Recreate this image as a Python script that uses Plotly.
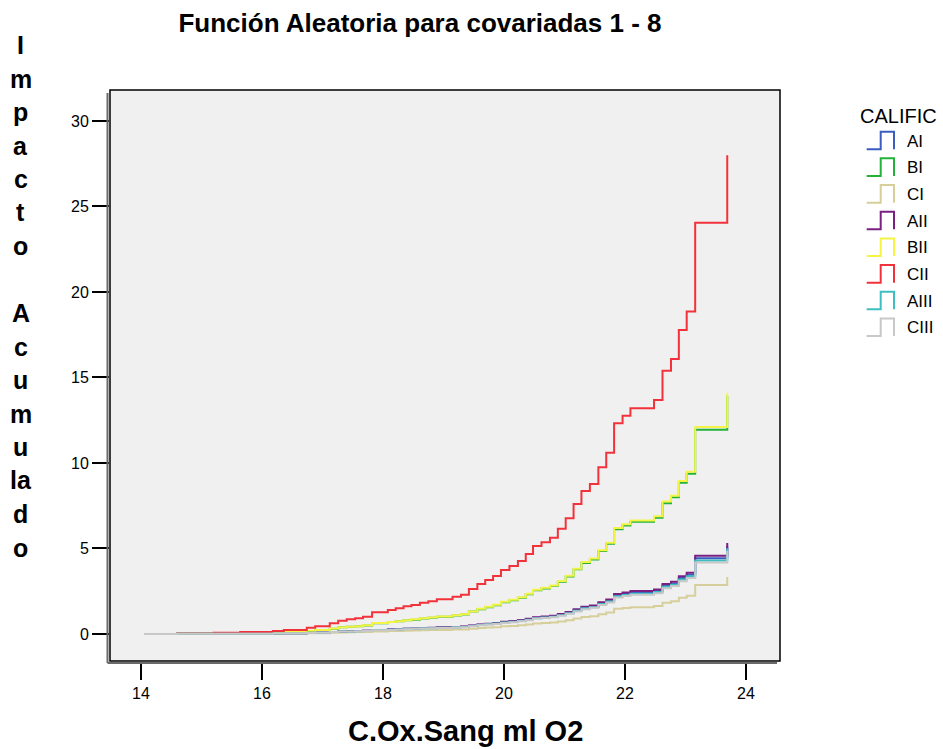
import plotly.graph_objects as go

# C.Ox.Sang ml O2 event times (x)
c_ox = [14.05, 14.60, 15.20, 15.64, 16.18, 16.36, 16.74, 16.88, 17.12, 17.26,
        17.40, 17.54, 17.67, 17.82, 18.08, 18.21, 18.34, 18.47, 18.61, 18.75,
        18.89, 19.15, 19.29, 19.42, 19.56, 19.69, 19.82, 19.95, 20.09, 20.23,
        20.36, 20.48, 20.62, 20.76, 20.89, 21.02, 21.15, 21.28, 21.42, 21.56,
        21.69, 21.82, 21.96, 22.09, 22.48, 22.62, 22.76, 22.89, 23.02, 23.16,
        23.69]

ai = [0.00, 0.01, 0.01, 0.02, 0.03, 0.04, 0.07, 0.08, 0.12, 0.14, 0.16, 0.17, 0.19,
      0.23, 0.26, 0.28, 0.30, 0.31, 0.33, 0.35, 0.37, 0.40, 0.42, 0.48, 0.54, 0.58,
      0.62, 0.69, 0.73, 0.79, 0.86, 0.95, 0.99, 1.04, 1.13, 1.25, 1.40, 1.54, 1.61,
      1.79, 1.95, 2.27, 2.35, 2.43, 2.52, 2.83, 2.96, 3.27, 3.47, 4.43, 5.15]
bi = [0.00, 0.01, 0.03, 0.05, 0.08, 0.11, 0.18, 0.23, 0.31, 0.39, 0.43, 0.46, 0.50,
      0.63, 0.70, 0.75, 0.81, 0.84, 0.90, 0.95, 1.01, 1.08, 1.14, 1.31, 1.45, 1.57,
      1.68, 1.86, 1.98, 2.12, 2.33, 2.56, 2.66, 2.80, 3.06, 3.36, 3.78, 4.15, 4.36,
      4.85, 5.27, 6.12, 6.34, 6.56, 6.80, 7.65, 7.99, 8.84, 9.37, 11.95, 13.92]
ci = [0.00, 0.00, 0.01, 0.01, 0.02, 0.03, 0.04, 0.05, 0.07, 0.09, 0.10, 0.11, 0.12,
      0.15, 0.17, 0.18, 0.19, 0.20, 0.22, 0.23, 0.24, 0.26, 0.27, 0.31, 0.35, 0.38,
      0.40, 0.45, 0.47, 0.51, 0.56, 0.61, 0.64, 0.67, 0.73, 0.81, 0.90, 0.99, 1.04,
      1.16, 1.26, 1.47, 1.52, 1.57, 1.63, 1.83, 1.91, 2.12, 2.24, 2.86, 3.33]
aii = [0.00, 0.01, 0.01, 0.02, 0.03, 0.04, 0.07, 0.09, 0.12, 0.15, 0.16, 0.17, 0.19,
       0.24, 0.27, 0.29, 0.31, 0.32, 0.35, 0.36, 0.39, 0.41, 0.44, 0.50, 0.55, 0.60,
       0.64, 0.71, 0.76, 0.81, 0.89, 0.98, 1.02, 1.07, 1.17, 1.29, 1.44, 1.59, 1.67,
       1.85, 2.01, 2.34, 2.42, 2.51, 2.60, 2.93, 3.06, 3.38, 3.58, 4.57, 5.32]
bii = [0.00, 0.02, 0.04, 0.06, 0.09, 0.12, 0.19, 0.23, 0.32, 0.39, 0.43, 0.46, 0.51,
       0.64, 0.70, 0.75, 0.81, 0.86, 0.92, 0.97, 1.02, 1.10, 1.15, 1.32, 1.47, 1.59,
       1.71, 1.88, 2.00, 2.15, 2.35, 2.59, 2.70, 2.83, 3.10, 3.41, 3.82, 4.21, 4.41,
       4.90, 5.33, 6.20, 6.42, 6.64, 6.88, 7.75, 8.09, 8.94, 9.49, 12.10, 14.08]
cii = [0.00, 0.03, 0.07, 0.11, 0.17, 0.23, 0.37, 0.46, 0.63, 0.78, 0.86, 0.92, 1.01,
       1.27, 1.40, 1.50, 1.62, 1.70, 1.82, 1.92, 2.03, 2.18, 2.29, 2.63, 2.92, 3.16,
       3.39, 3.74, 3.98, 4.27, 4.68, 5.15, 5.36, 5.63, 6.16, 6.77, 7.60, 8.36, 8.77,
       9.75, 10.60, 12.32, 12.76, 13.20, 13.68, 15.40, 16.08, 17.78, 18.86, 24.05, 28.00]
aiii = [0.00, 0.01, 0.01, 0.02, 0.03, 0.04, 0.07, 0.08, 0.11, 0.14, 0.15, 0.16, 0.18,
        0.23, 0.25, 0.27, 0.29, 0.30, 0.33, 0.34, 0.36, 0.39, 0.41, 0.47, 0.52, 0.57,
        0.61, 0.67, 0.71, 0.76, 0.84, 0.92, 0.96, 1.01, 1.10, 1.21, 1.36, 1.50, 1.57,
        1.75, 1.90, 2.21, 2.28, 2.36, 2.45, 2.76, 2.88, 3.18, 3.38, 4.30, 5.01]
ciii = [0.00, 0.01, 0.01, 0.02, 0.03, 0.04, 0.06, 0.08, 0.11, 0.14, 0.15, 0.16, 0.18,
        0.22, 0.24, 0.26, 0.28, 0.30, 0.32, 0.33, 0.35, 0.38, 0.40, 0.46, 0.51, 0.55,
        0.59, 0.65, 0.69, 0.74, 0.81, 0.90, 0.93, 0.98, 1.07, 1.18, 1.32, 1.45, 1.53,
        1.70, 1.84, 2.14, 2.22, 2.30, 2.38, 2.68, 2.80, 3.09, 3.28, 4.18, 4.87]

series_names = ["AI", "BI", "CI", "AII", "BII", "CII", "AIII", "CIII"]
series_values = [ai, bi, ci, aii, bii, cii, aiii, ciii]
series_colors = ["#3b5cc0", "#22b23a", "#d6cf9c", "#7a2082",
                 "#f4f444", "#f2323a", "#3dbfc2", "#c8c8c8"]

x_ticks = [14, 16, 18, 20, 22, 24]
y_ticks = [0, 5, 10, 15, 20, 25, 30]

title_text = "Función Aleatoria para covariadas 1 - 8"
x_title = "C.Ox.Sang ml O2"
y_title_lines = ["I", "m", "p", "a", "c", "t", "o", "", "A", "c", "u", "m", "u", "la", "d", "o"]
legend_title = "CALIFIC"

W, H = 943, 749
L, R, T, B = 110, 780, 90, 661
FONT = "Liberation Sans, Arial, sans-serif"


def px(x):
    return (x - L) / (R - L)


def py(y):
    return (B - y) / (B - T)


fig = go.Figure()
for name, color, vals in zip(series_names, series_colors, series_values):
    fig.add_trace(go.Scatter(x=c_ox, y=vals, mode="lines", name=name,
                             line=dict(color=color, width=2, shape="hv"),
                             showlegend=False, hoverinfo="x+y+name"))

shapes = []
# plot frame with a shadow
shapes.append(dict(type="line", xref="paper", yref="paper", x0=px(107.5), x1=px(107.5),
                   y0=py(93), y1=py(663), line=dict(color="#6a6a6a", width=2), layer="above"))
shapes.append(dict(type="line", xref="paper", yref="paper", x0=px(107.5), x1=px(777),
                   y0=py(663), y1=py(663), line=dict(color="#6a6a6a", width=2), layer="above"))
shapes.append(dict(type="rect", xref="paper", yref="paper", x0=0, x1=1, y0=0, y1=1,
                   line=dict(color="black", width=1.5), layer="above"))

annotations = []
# y title: stacked letters
for i, s in enumerate(y_title_lines):
    if not s:
        continue
    annotations.append(dict(text="<b>%s</b>" % s, x=px(21), y=py(45 + i * 33.5),
                            xref="paper", yref="paper", showarrow=False,
                            xanchor="center", yanchor="middle",
                            font=dict(family=FONT, size=25, color="black")))
# x title
annotations.append(dict(text="<b>%s</b>" % x_title, x=px(465), y=py(731), xref="paper",
                        yref="paper", showarrow=False, xanchor="center", yanchor="middle",
                        font=dict(family=FONT, size=29, color="black")))
# legend
annotations.append(dict(text=legend_title, x=px(898), y=py(116), xref="paper", yref="paper",
                        showarrow=False, xanchor="center", yanchor="middle",
                        font=dict(family=FONT, size=20, color="black")))
for i, (name, color) in enumerate(zip(series_names, series_colors)):
    yb = 149.3 + i * 26.67
    yt = yb - 17.6
    path = "M %f %f L %f %f L %f %f L %f %f L %f %f" % (
        px(866.7), py(yb), px(880.7), py(yb), px(880.7), py(yt),
        px(894), py(yt), px(894), py(yb))
    shapes.append(dict(type="path", xref="paper", yref="paper", path=path,
                       line=dict(color=color, width=2)))
    annotations.append(dict(text=name, x=px(905), y=py(yb - 8), xref="paper", yref="paper",
                            showarrow=False, xanchor="left", yanchor="middle",
                            font=dict(family=FONT, size=17, color="black")))

fig.update_layout(
    width=W, height=H,
    margin=dict(l=L, r=W - R, t=T, b=H - B),
    paper_bgcolor="white", plot_bgcolor="#f0f0f0",
    title=dict(text="<b>%s</b>" % title_text, x=420 / W, xanchor="center",
               y=1 - 23 / H, yanchor="middle",
               font=dict(family=FONT, size=26, color="black")),
    xaxis=dict(range=[13.488, 24.562], tickvals=x_ticks, ticks="outside", ticklen=18,
               tickwidth=2, tickcolor="black", showgrid=False, zeroline=False,
               showline=False, tickfont=dict(family=FONT, size=16, color="black")),
    yaxis=dict(range=[-1.579, 31.81], tickvals=y_ticks, ticks="outside", ticklen=17,
               tickwidth=2, tickcolor="black", showgrid=False, zeroline=False,
               showline=False, tickfont=dict(family=FONT, size=16, color="black")),
    shapes=shapes, annotations=annotations, showlegend=False,
)

fig.write_html("out.html")
